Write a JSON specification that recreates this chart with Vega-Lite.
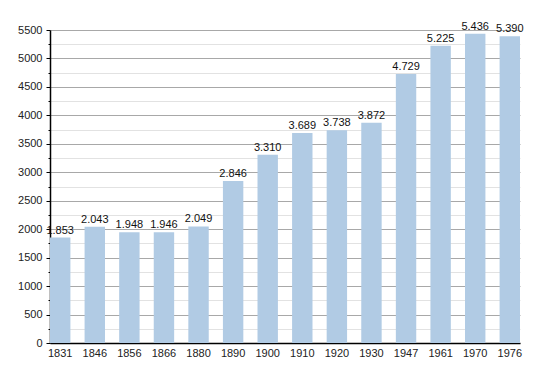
{
  "$schema": "https://vega.github.io/schema/vega-lite/v6.json",
  "autosize": {"type": "none"},
  "padding": {"left": 50, "top": 30, "right": 30, "bottom": 30},
  "width": 470,
  "height": 313,
  "background": "white",
  "config": {"view": {"stroke": null}, "font": "Liberation Sans"},
  "data": {"values": [
    {"year": "1831", "pop": 1853, "label": "1.853"},
    {"year": "1846", "pop": 2043, "label": "2.043"},
    {"year": "1856", "pop": 1948, "label": "1.948"},
    {"year": "1866", "pop": 1946, "label": "1.946"},
    {"year": "1880", "pop": 2049, "label": "2.049"},
    {"year": "1890", "pop": 2846, "label": "2.846"},
    {"year": "1900", "pop": 3310, "label": "3.310"},
    {"year": "1910", "pop": 3689, "label": "3.689"},
    {"year": "1920", "pop": 3738, "label": "3.738"},
    {"year": "1930", "pop": 3872, "label": "3.872"},
    {"year": "1947", "pop": 4729, "label": "4.729"},
    {"year": "1961", "pop": 5225, "label": "5.225"},
    {"year": "1970", "pop": 5436, "label": "5.436"},
    {"year": "1976", "pop": 5390, "label": "5.390"}
  ]},
  "encoding": {
    "x": {
      "field": "year", "type": "nominal", "sort": null,
      "scale": {"paddingInner": 0.41, "paddingOuter": 0.0},
      "axis": {"title": null, "labelAngle": 0, "ticks": false, "domainColor": "#000", "domainWidth": 1.5, "labelPadding": 4, "labelFontSize": 11, "labelColor": "#222", "grid": false}
    },
    "y": {
      "field": "pop", "type": "quantitative",
      "scale": {"domain": [0, 5500], "nice": false},
      "axis": {
        "title": null,
        "values": [0,250,500,750,1000,1250,1500,1750,2000,2250,2500,2750,3000,3250,3500,3750,4000,4250,4500,4750,5000,5250,5500],
        "labelExpr": "datum.value % 500 === 0 ? datum.value : ''",
        "grid": true,
        "gridColor": {"condition": {"test": "datum.value % 500 === 0", "value": "#a8a8a8"}, "value": "#e2e2e2"},
        "tickSize": {"condition": {"test": "datum.value % 500 === 0", "value": 4}, "value": 2},
        "tickColor": "#000",
        "domainColor": "#000",
        "domainWidth": 1.5,
        "labelPadding": 4,
        "labelFontSize": 11,
        "labelColor": "#222"
      }
    }
  },
  "layer": [
    {"mark": {"type": "bar", "color": "#b1cbe4"}},
    {"mark": {"type": "text", "dy": -7, "fontSize": 11, "color": "#111"}, "encoding": {"text": {"field": "label"}}}
  ]
}
